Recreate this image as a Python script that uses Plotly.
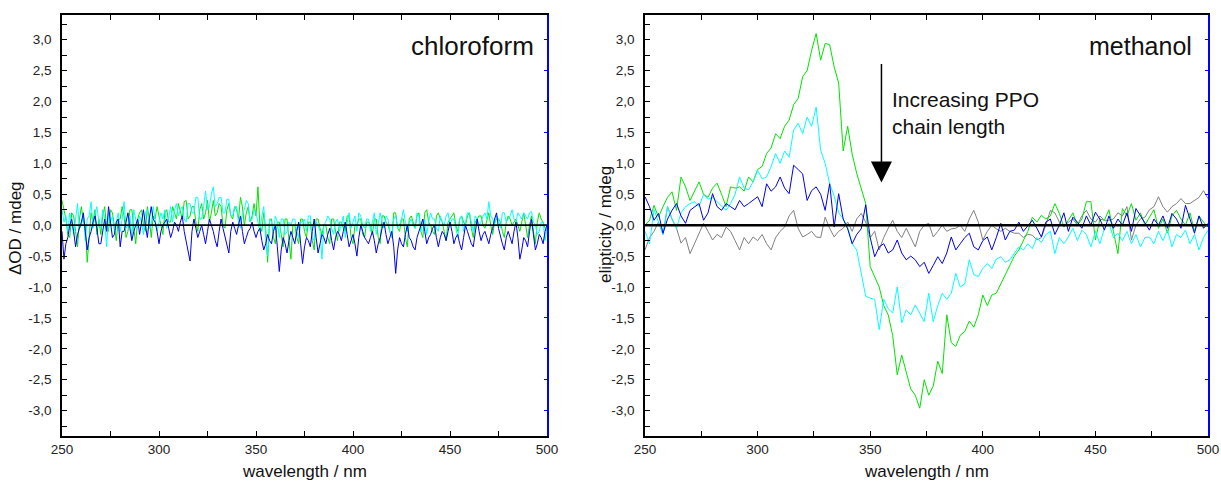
import plotly.graph_objects as go

# ---------------- data ----------------
wavelength_chloro = list(range(250, 501, 1))  # nm, 1 nm sampling
wavelength_meth = list(range(250, 501, 2))    # nm, 2 nm sampling

chloro_cyan = [
    0.25, 0.05, 0.15, -0.1, 0.2, 0.0, -0.15, 0.1, 0.35, -0.05,
    0.0, 0.2, -0.25, 0.1, 0.15, 0.38, -0.05, 0.2, 0.3, 0.05,
    -0.05, 0.25, 0.1, -0.35, 0.2, 0.05, 0.15, -0.1, 0.05, 0.2,
    -0.1, 0.1, 0.38, -0.05, 0.0, 0.15, -0.2, 0.25, 0.1, -0.05,
    0.15, 0.05, -0.15, 0.2, 0.25, -0.05, 0.0, 0.3, 0.1, -0.1,
    0.05, 0.2, 0.1, 0.25, -0.05, 0.15, 0.3, 0.05, 0.25, 0.35,
    0.15, 0.25, 0.3, 0.1, 0.05, 0.35, 0.35, 0.2, 0.2, 0.45,
    0.45, 0.1, 0.1, 0.3, 0.55, 0.25, 0.3, 0.5, 0.62, 0.3,
    0.35, 0.45, 0.45, 0.2, 0.2, 0.42, 0.42, 0.15, 0.15, 0.3,
    0.3, 0.05, -0.05, 0.2, 0.25, 0.4, 0.35, 0.05, 0.1, 0.25,
    0.2, 0.05, -0.1, 0.15, 0.3, -0.2, -0.5, 0.1, 0.05, -0.1,
    0.15, 0.05, -0.2, 0.1, 0.1, -0.15, -0.1, 0.05, 0.0, 0.1,
    0.1, -0.1, -0.2, 0.05, 0.05, 0.1, -0.1, 0.15, 0.15, -0.2,
    -0.25, 0.05, 0.0, -0.1, -0.55, 0.0, 0.05, 0.15, 0.1, -0.05,
    -0.15, 0.05, 0.1, -0.1, 0.0, 0.15, -0.2, 0.05, 0.2, -0.05,
    0.05, 0.15, -0.1, 0.2, 0.15, 0.0, -0.05, 0.1, 0.1, -0.1,
    0.05, 0.2, -0.15, 0.0, 0.2, 0.05, -0.05, 0.15, 0.1, -0.1,
    -0.2, 0.1, 0.15, -0.05, 0.0, 0.1, 0.25, 0.05, -0.1, 0.05,
    0.1, 0.0, -0.05, 0.2, 0.15, -0.1, 0.05, 0.1, -0.15, 0.05,
    0.2, 0.1, 0.1, -0.05, -0.1, 0.15, 0.05, 0.0, 0.15, 0.2,
    0.0, 0.1, 0.1, -0.05, -0.2, 0.1, 0.15, -0.1, 0.05, 0.2,
    0.2, 0.05, -0.1, 0.15, 0.1, 0.0, 0.05, 0.15, 0.2, 0.1,
    0.38, 0.15, 0.1, 0.0, 0.15, 0.1, -0.05, 0.2, 0.2, 0.05,
    0.1, 0.15, 0.25, 0.1, 0.05, 0.2, 0.15, 0.1, 0.2, 0.15,
    0.1, 0.2, 0.22, 0.05, 0.0, -0.15, -0.1, 0.05, 0.05, -0.25,
    -0.05,
]
chloro_green = [
    0.4, 0.25, 0.1, -0.15, -0.2, 0.2, 0.15, -0.1, -0.35, 0.1,
    0.3, 0.05, 0.0, -0.6, -0.2, 0.2, 0.05, 0.25, -0.15, 0.1,
    -0.15, 0.15, 0.3, -0.05, -0.1, 0.25, 0.2, -0.05, -0.25, 0.1,
    0.1, 0.3, 0.15, -0.2, -0.1, 0.25, 0.25, -0.05, -0.3, 0.1,
    0.2, 0.25, 0.0, -0.1, 0.3, 0.1, -0.2, 0.15, 0.1, 0.3,
    0.15, 0.0, -0.15, 0.2, 0.25, 0.05, 0.05, 0.3, 0.2, 0.1,
    0.35, 0.2, 0.1, 0.38, 0.4, 0.1, 0.15, 0.3, 0.3, 0.05,
    -0.1, 0.25, 0.35, 0.1, 0.2, 0.4, 0.05, 0.2, 0.4, 0.15,
    0.2, 0.35, 0.3, 0.0, -0.05, 0.25, 0.35, 0.15, 0.1, 0.3,
    0.25, 0.1, 0.45, 0.3, 0.0, 0.2, 0.3, 0.05, 0.15, 0.35,
    0.15, 0.62, 0.0, -0.1, 0.2, -0.05, -0.6, 0.1, 0.1, -0.2,
    -0.3, 0.05, 0.05, -0.15, -0.35, 0.1, 0.1, -0.25, -0.55, 0.0,
    0.0, -0.2, -0.3, 0.1, 0.1, -0.1, -0.2, 0.05, 0.05, -0.25,
    -0.4, 0.1, 0.1, -0.05, -0.15, 0.0, 0.0, -0.2, -0.3, 0.1,
    0.1, -0.1, -0.25, 0.05, 0.05, -0.05, -0.1, 0.15, 0.15, -0.2,
    -0.3, 0.0, 0.0, 0.1, 0.1, -0.15, -0.2, 0.05, 0.05, 0.0,
    -0.15, 0.1, 0.1, -0.2, -0.3, 0.15, 0.15, 0.05, 0.0, -0.1,
    -0.2, 0.2, 0.2, -0.05, -0.1, 0.1, 0.1, -0.2, -0.35, 0.1,
    0.15, 0.05, -0.05, 0.15, 0.2, -0.1, -0.2, 0.2, 0.25, 0.05,
    0.0, -0.1, -0.15, 0.15, 0.2, 0.1, 0.05, -0.1, -0.25, 0.05,
    0.1, 0.15, 0.2, 0.0, -0.1, 0.1, 0.15, 0.05, 0.0, 0.15,
    0.2, -0.05, -0.2, 0.05, 0.1, 0.15, 0.15, 0.0, -0.05, 0.1,
    0.2, 0.0, -0.15, 0.05, 0.1, 0.1, 0.05, -0.1, -0.2, 0.05,
    0.15, 0.1, 0.0, 0.05, 0.1, 0.0, -0.1, 0.05, 0.2, 0.0,
    -0.2, 0.0, 0.15, -0.1, -0.3, 0.05, 0.2, 0.1, 0.05, -0.05,
    -0.1,
]
chloro_blue = [
    -0.1, -0.55, -0.3, -0.2, 0.0, 0.1, -0.1, -0.35, -0.15, -0.05,
    0.05, 0.2, -0.1, -0.4, -0.2, -0.1, 0.05, 0.15, -0.05, -0.3,
    -0.3, -0.1, 0.1, -0.1, 0.3, 0.05, -0.2, -0.15, 0.05, 0.1,
    -0.35, -0.1, -0.1, 0.05, 0.2, -0.05, -0.25, -0.1, 0.0, 0.1,
    -0.15, 0.05, 0.25, 0.0, -0.2, 0.1, 0.3, 0.1, 0.05, -0.1,
    -0.3, -0.1, 0.0, 0.05, 0.1, -0.05, -0.2, -0.1, 0.05, 0.0,
    -0.1, 0.05, 0.15, -0.1, -0.25, -0.4, -0.58, -0.1, 0.1, -0.05,
    -0.2, -0.1, 0.0, -0.15, -0.3, -0.1, 0.1, 0.0, -0.1, -0.25,
    -0.35, -0.1, 0.1, -0.05, -0.2, -0.35, -0.45, -0.1, 0.05, -0.05,
    -0.15, 0.0, 0.15, -0.1, -0.3, -0.2, -0.1, -0.05, 0.05, -0.1,
    -0.2, -0.1, -0.05, -0.25, -0.4, -0.3, -0.15, -0.25, -0.3, -0.1,
    0.0, -0.35, -0.75, -0.4, -0.2, -0.3, -0.45, -0.25, -0.1, -0.2,
    -0.3, -0.1, 0.05, -0.3, -0.62, -0.35, -0.2, -0.25, -0.35, -0.1,
    0.1, -0.2, -0.45, -0.3, -0.15, -0.2, -0.3, -0.15, -0.05, -0.25,
    -0.4, -0.2, -0.1, -0.15, -0.25, -0.1, 0.05, -0.15, -0.35, -0.25,
    -0.15, -0.3, -0.5, -0.2, 0.0, -0.1, -0.2, -0.25, -0.3, -0.2,
    -0.1, -0.25, -0.45, -0.3, -0.2, -0.05, 0.05, -0.15, -0.3, -0.2,
    -0.1, -0.35, -0.78, -0.4, -0.2, -0.3, -0.35, -0.15, 0.0, -0.2,
    -0.25, -0.35, -0.4, -0.2, -0.1, 0.0, 0.1, -0.1, -0.3, -0.2,
    -0.15, -0.05, 0.0, -0.2, -0.35, -0.2, -0.1, -0.15, -0.25, -0.1,
    0.05, -0.1, -0.3, -0.2, -0.15, -0.3, -0.4, -0.2, 0.0, -0.1,
    -0.2, -0.3, -0.35, -0.1, 0.1, -0.1, -0.25, -0.15, -0.1, -0.2,
    -0.3, -0.15, -0.05, 0.1, 0.2, -0.05, -0.2, -0.3, -0.4, -0.2,
    -0.1, -0.2, -0.3, -0.1, 0.05, -0.2, -0.55, -0.4, -0.2, -0.25,
    -0.35, -0.1, 0.1, -0.15, -0.4, -0.3, -0.15, -0.2, -0.3, -0.1,
    0.0,
]

meth_gray = [
    -0.4, -0.2, -0.1, 0.05, -0.15, 0.3, 0.1, -0.05, -0.29, -0.2,
    -0.46, -0.3, -0.15, 0.03, -0.1, -0.24, -0.15, -0.2, -0.03, -0.1,
    -0.25, -0.4, -0.2, -0.3, -0.19, -0.25, -0.15, -0.3, -0.4, -0.2,
    -0.1, -0.03, 0.15, 0.24, -0.05, -0.19, -0.15, -0.1, -0.19, -0.2,
    0.13, -0.05, -0.19, -0.1, -0.05, 0.05, -0.1, 0.1, 0.19, 0.05,
    -0.2, -0.1, -0.4, -0.2, -0.05, 0.08, -0.1, -0.2, -0.05, -0.2,
    -0.35, -0.1, 0.0, 0.03, -0.19, -0.1, 0.0, -0.1, -0.06, -0.05,
    0.0, -0.1, 0.1, 0.24, 0.05, -0.24, -0.1, 0.0, -0.06, -0.1,
    -0.05, -0.1, -0.13, -0.13, -0.2, -0.15, -0.16, -0.24, -0.2, 0.0,
    0.24, 0.2, 0.05, -0.03, 0.05, 0.1, 0.0, 0.15, 0.24, 0.1,
    0.05, 0.15, 0.08, 0.08, 0.1, 0.2, 0.15, 0.3, -0.24, 0.0,
    0.1, 0.13, 0.25, 0.3, 0.46, 0.3, 0.21, 0.3, 0.35, 0.43,
    0.35, 0.35, 0.4, 0.45, 0.56, 0.43,
]
meth_green = [
    0.0, 0.08, 0.32, 0.13, 0.3, 0.45, 0.54, 0.24, 0.78, 0.62,
    0.4, 0.55, 0.7, 0.5, 0.45, 0.6, 0.68, 0.5, 0.3, 0.62,
    0.6, 0.62, 0.55, 0.78, 0.7, 0.9, 0.95, 1.16, 1.25, 1.48,
    1.4, 1.6, 1.7, 1.95, 2.05, 2.4, 2.5, 2.83, 3.1, 2.67,
    2.94, 2.92, 2.56, 2.3, 1.2, 1.6, 1.15, 0.84, 0.6, 0.35,
    -0.67, -0.84, -1.0, -1.3, -1.45, -1.79, -2.42, -2.1, -2.4, -2.65,
    -2.75, -2.96, -2.5, -2.75, -2.6, -2.2, -2.4, -1.45, -1.9, -1.96,
    -1.78, -1.72, -1.55, -1.65, -1.45, -1.13, -1.3, -1.13, -1.1, -0.95,
    -0.78, -0.65, -0.5, -0.4, -0.25, -0.1, 0.13, 0.05, 0.16, 0.1,
    0.15, 0.35, 0.19, -0.03, 0.08, 0.2, 0.0, 0.1, 0.38, 0.38,
    -0.24, 0.1, 0.08, 0.25, -0.1, -0.46, 0.27, 0.15, 0.35, 0.08,
    0.2, 0.0, 0.13, 0.25, -0.05, 0.1, -0.13, 0.15, 0.24, 0.1,
    0.0, 0.2, -0.1, 0.15, 0.05, -0.03,
]
meth_cyan = [
    -0.1, -0.3, 0.25, 0.05, -0.15, 0.3, 0.1, -0.05, 0.2, 0.3,
    0.35, 0.38, 0.3, 0.5, 0.42, 0.45, 0.38, 0.3, 0.24, 0.35,
    0.5, 0.78, 0.6, 0.57, 0.7, 0.89, 0.75, 0.78, 0.95, 1.16,
    1.0, 1.2, 1.1, 1.54, 1.65, 1.48, 1.75, 1.6, 1.91, 1.21,
    1.0, 0.67, 0.47, 0.2, 0.1, -0.03, -0.3, -0.4, -0.78, -1.15,
    -1.18, -1.2, -1.69, -1.2, -1.35, -1.42, -1.0, -1.58, -1.37, -1.45,
    -1.29, -1.42, -1.56, -1.1, -1.56, -1.3, -1.1, -1.2, -1.1, -0.78,
    -1.0, -0.95, -0.56, -0.8, -0.83, -0.7, -0.62, -0.7, -0.55, -0.51,
    -0.6, -0.56, -0.45, -0.35, -0.4, -0.3, -0.38, -0.2, -0.28, -0.15,
    -0.1, -0.46, -0.2, -0.3, -0.19, -0.05, -0.25, -0.08, -0.15, -0.35,
    -0.1, -0.3, -0.05, 0.03, -0.2, -0.13, -0.25, -0.1, -0.3, -0.15,
    -0.35, -0.2, -0.19, -0.3, -0.1, -0.25, -0.08, -0.35, -0.15, -0.2,
    -0.08, -0.3, -0.15, -0.4, -0.2, -0.08,
]
meth_blue = [
    0.46, 0.3, 0.08, 0.19, -0.13, 0.1, 0.24, 0.35, 0.15, 0.03,
    0.24, 0.3, 0.35, 0.08, 0.2, 0.51, 0.3, 0.24, 0.35, 0.3,
    0.25, 0.4, 0.3, 0.35, 0.4, 0.46, 0.3, 0.67, 0.55, 0.62,
    0.78, 0.6, 0.51, 0.97, 0.9, 0.83, 0.4, 0.56, 0.62, 0.5,
    0.24, 0.67, -0.03, 0.51, 0.1, -0.06, -0.3, -0.15, -0.06, 0.33,
    -0.2, -0.51, -0.35, -0.3, -0.45, -0.4, -0.24, -0.45, -0.56, -0.5,
    -0.56, -0.67, -0.6, -0.78, -0.65, -0.51, -0.62, -0.45, -0.19, -0.4,
    -0.3, -0.2, -0.13, -0.35, -0.4, -0.25, -0.19, -0.4, -0.2, 0.03,
    -0.24, -0.1, -0.08, 0.05, -0.1, 0.0, 0.08, -0.05, -0.19, 0.05,
    0.1, -0.15, 0.0, 0.2, -0.1, 0.13, 0.05, -0.05, 0.15, 0.0,
    0.21, 0.1, -0.08, 0.15, -0.05, 0.1, 0.0, 0.2, -0.1, 0.27,
    0.15, 0.05, -0.08, 0.1, 0.0, 0.15, -0.05, 0.19, 0.1, -0.05,
    0.32, 0.1, -0.13, 0.15, -0.05, 0.03,
]

baseline_x = [250, 500]
baseline_y = [0, 0]

y_tickvals = [3.0, 2.5, 2.0, 1.5, 1.0, 0.5, 0.0, -0.5, -1.0, -1.5, -2.0, -2.5, -3.0]
y_ticktext = ["3,0", "2,5", "2,0", "1,5", "1,0", "0,5", "0,0",
              "-0,5", "-1,0", "-1,5", "-2,0", "-2,5", "-3,0"]
x_tickvals = [250, 300, 350, 400, 450, 500]
x_ticktext = ["250", "300", "350", "400", "450", "500"]

arrow_x = 355
arrow_top = 2.63
arrow_tip = 0.69

# ---------------- style ----------------
GREEN = "#00E400"
CYAN = "#00FFFF"
BLUE = "#0000F0"
GRAY = "#7F7F7F"
FONT = "Liberation Sans, Arial, sans-serif"
W, H = 1221, 481
YR = [-3.41, 3.40]
XR = [250, 500]

fig = go.Figure()

def line(x, y, color, xa, ya, width=1.0):
    fig.add_trace(go.Scatter(x=x, y=y, mode="lines", xaxis=xa, yaxis=ya,
                             line=dict(color=color, width=width),
                             showlegend=False, hoverinfo="skip"))

# left panel (chloroform)
line(wavelength_chloro, chloro_green, GREEN, "x", "y")
line(wavelength_chloro, chloro_cyan, CYAN, "x", "y")
line(wavelength_chloro, chloro_blue, BLUE, "x", "y")
line(baseline_x, baseline_y, "black", "x", "y3", 1.8)

# right panel (methanol)
line(wavelength_meth, meth_gray, GRAY, "x2", "y2")
line(wavelength_meth, meth_green, GREEN, "x2", "y2")
line(wavelength_meth, meth_cyan, CYAN, "x2", "y2")
line(wavelength_meth, meth_blue, BLUE, "x2", "y2")
line(baseline_x, baseline_y, "black", "x2", "y4", 2.4)

dom_left = [62 / W, 547 / W]
dom_right = [645 / W, 1208 / W]
dom_y = [1 - 436 / H, 1 - 15 / H]

tickfont = dict(family=FONT, size=13.5, color="#222222")

def xaxis(domain, anchor):
    return dict(domain=domain, anchor=anchor, range=XR, showgrid=False, zeroline=False,
                automargin=False,
                showline=True, linecolor="black", linewidth=1.5, mirror="ticks",
                ticks="inside", ticklen=5, tickwidth=1, tickcolor="black",
                tickvals=x_tickvals, ticktext=x_ticktext, tickfont=tickfont,
                minor=dict(dtick=25, tick0=250, ticks="inside", ticklen=5, tickcolor="black", showgrid=False))

def yaxis(domain, anchor):
    return dict(domain=domain, anchor=anchor, range=YR, showgrid=False, zeroline=False,
                automargin=False,
                showline=True, linecolor="black", linewidth=1.5,
                ticks="inside", ticklen=5, tickwidth=1, tickcolor="black",
                tickvals=y_tickvals, ticktext=y_ticktext, tickfont=tickfont,
                ticklabelstandoff=6,
                minor=dict(dtick=0.25, tick0=0, ticks="inside", ticklen=5, tickcolor="black", showgrid=False))

def yright(overlay, anchor):
    return dict(overlaying=overlay, anchor=anchor, side="right", range=YR,
                automargin=False,
                showgrid=False, zeroline=False, showline=True, linecolor="#0000FF",
                linewidth=1.5, ticks="inside", ticklen=3, tickcolor="#0000FF",
                dtick=0.5, tick0=0, showticklabels=False)

fig.update_layout(
    template="none",
    width=W, height=H, margin=dict(l=0, r=0, t=0, b=0, pad=0, autoexpand=False),
    paper_bgcolor="white", plot_bgcolor="white",
    font=dict(family=FONT, color="#111111"),
    xaxis=xaxis(dom_left, "y"),
    yaxis=yaxis(dom_y, "x"),
    xaxis2=xaxis(dom_right, "y2"),
    yaxis2=yaxis(dom_y, "x2"),
    yaxis3=yright("y", "x"),
    yaxis4=yright("y2", "x2"),
)

ann_font = dict(family=FONT, size=17, color="#111111")
annotations = [
    dict(text="\u0394OD / mdeg", xref="paper", yref="paper", x=15 / W, y=1 - 228 / H,
         textangle=-90, showarrow=False, font=ann_font, xanchor="center", yanchor="middle"),
    dict(text="elipticity / mdeg", xref="paper", yref="paper", x=605 / W, y=1 - 225 / H,
         textangle=-90, showarrow=False, font=ann_font, xanchor="center", yanchor="middle"),
    dict(text="wavelength / nm", xref="paper", yref="paper", x=(62 + 547) / 2 / W, y=1 - 471 / H,
         showarrow=False, font=ann_font, xanchor="center", yanchor="middle"),
    dict(text="wavelength / nm", xref="paper", yref="paper", x=(645 + 1208) / 2 / W, y=1 - 471 / H,
         showarrow=False, font=ann_font, xanchor="center", yanchor="middle"),
    dict(text="chloroform", xref="paper", yref="paper", x=536 / W, y=1 - 46 / H,
         showarrow=False, font=dict(family=FONT, size=26, color="#111111"),
         xanchor="right", yanchor="middle"),
    dict(text="methanol", xref="paper", yref="paper", x=1194 / W, y=1 - 46 / H,
         showarrow=False, font=dict(family=FONT, size=25, color="#111111"),
         xanchor="right", yanchor="middle"),
    dict(text="Increasing PPO<br>chain length", xref="paper", yref="paper", x=890 / W, y=1 - 86 / H,
         showarrow=False, font=dict(family=FONT, size=21, color="#111111"),
         xanchor="left", yanchor="top", align="left"),
    dict(text="", xref="x2", yref="y2", x=arrow_x, y=arrow_tip,
         axref="x2", ayref="y2", ax=arrow_x, ay=arrow_top,
         showarrow=True, arrowhead=2, arrowsize=2.8, arrowwidth=1.5, arrowcolor="black"),
]
fig.update_layout(annotations=annotations)

fig.write_html("out.html")
